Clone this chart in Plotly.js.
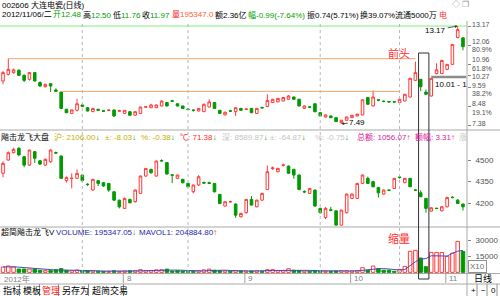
<!DOCTYPE html>
<html><head><meta charset="utf-8">
<script src="https://cdn.plot.ly/plotly-3.0.1.min.js"></script>
<style>html,body{margin:0;padding:0;background:#fff;overflow:hidden}#chart{width:500px;height:296px}</style>
</head><body><div id="chart"></div>
<script>
// ---- stock 002606 daily OHLC ----
const stockOpen = [9.97,10.36,10.46,10.60,10.30,10.07,10.46,9.88,9.64,9.82, 9.45,9.33,8.33,8.09,8.27,8.58,8.42,8.19,8.33,8.24, 8.26,8.29,8.22,8.09,8.19,7.98,8.09,8.45,8.42,8.42, 8.52,8.72,8.82,8.65,8.52,8.34,8.28,8.23,8.19,8.46, 8.72,8.27,8.00,8.24,8.19,8.38,8.32,8.38,8.09,8.43, 8.49,8.72,8.76,8.81,8.91,9.04,8.91,8.38,8.47,8.65, 8.13,7.88,7.94,7.84,7.55,7.69,7.84,7.94,8.00,9.01, 8.52,8.88,8.80,8.78,8.77,8.72,8.81,9.04,10.01,10.07, 9.33,9.10,10.40,10.40,10.65,10.94,12.50,12.48];
const stockHigh = [10.55,11.27,10.70,10.65,10.36,10.50,10.48,9.95,9.82,9.85, 9.55,9.35,8.35,8.30,8.94,8.62,8.45,8.40,8.35,8.26, 8.32,8.30,8.30,8.28,8.20,8.20,8.47,8.52,8.65,8.60, 8.85,8.75,8.88,8.68,8.54,8.40,8.32,8.40,8.66,8.91, 8.74,8.29,8.18,8.30,8.44,8.40,8.38,8.40,8.40,8.48, 9.20,8.93,8.98,9.02,9.15,9.07,8.93,8.55,8.50,8.67, 8.15,8.02,7.96,7.86,7.70,7.90,8.00,8.06,8.90,9.05, 9.43,8.92,8.84,8.82,8.80,8.93,9.22,10.15,11.10,10.09, 9.48,10.15,11.00,11.20,10.96,12.12,13.17,12.50];
const stockLow = [9.78,10.30,10.40,10.28,9.91,10.00,9.95,9.64,9.60,9.33, 9.35,8.35,8.10,8.07,8.20,8.45,8.20,8.17,8.25,8.20, 8.24,7.88,8.18,8.07,7.96,7.96,8.07,8.42,8.40,8.40, 8.50,8.50,8.76,8.50,8.35,8.28,8.20,8.21,8.17,8.44, 8.35,8.07,7.98,8.18,7.94,8.25,8.28,8.10,8.07,8.38, 8.45,8.70,8.74,8.79,8.89,8.89,8.50,8.36,8.42,8.15, 7.92,7.86,7.82,7.60,7.49,7.67,7.82,7.92,7.98,8.60, 8.50,8.80,8.74,8.70,8.72,8.70,8.79,9.02,9.98,9.39, 9.18,9.08,10.36,10.38,10.60,10.90,12.45,11.76];
const stockClose = [10.46,10.65,10.62,10.30,10.01,10.46,9.97,9.68,9.78,9.68, 9.38,8.38,8.13,8.29,8.65,8.50,8.23,8.38,8.27,8.22, 8.28,7.94,8.24,8.27,7.98,8.19,8.46,8.47,8.58,8.58, 8.81,8.52,8.80,8.52,8.37,8.32,8.27,8.38,8.62,8.76, 8.38,8.09,8.16,8.22,8.42,8.27,8.34,8.13,8.38,8.41, 8.84,8.91,8.96,9.01,9.10,8.91,8.52,8.52,8.45,8.19, 7.94,8.00,7.84,7.61,7.69,7.88,7.98,8.05,8.88,8.62, 9.04,8.86,8.78,8.76,8.75,8.91,9.20,10.13,10.46,9.64, 9.20,10.13,10.62,11.17,10.94,12.10,12.96,11.97];

// ---- 飚击龙飞大盘 index OHLC ----
const idxOpen = [4408,4500,4551,4581,4523,4465,4558,4495,4465,4488, 4552,4528,4357,4372,4373,4396,4332,4292,4357,4343, 4338,4280,4222,4165,4227,4211,4269,4389,4435,4389, 4496,4482,4397,4373,4366,4338,4280,4327,4345,4343, 4338,4262,4181,4210,4195,4107,4135,4227,4176,4222, 4296,4440,4419,4463,4458,4435,4396,4282,4269,4292, 4165,4102,4155,4148,4049,4135,4234,4234,4338,4373, 4350,4310,4264,4292,4303,4382,4343,4373,4293,4273, 4234,4146,4166,4148,4176,4242,4222,4195];
const idxHigh = [4490,4560,4585,4590,4528,4572,4562,4500,4510,4575, 4558,4530,4385,4408,4435,4400,4340,4370,4362,4348, 4340,4285,4225,4240,4232,4295,4392,4445,4440,4496, 4505,4486,4400,4400,4370,4340,4330,4395,4350,4350, 4340,4265,4215,4218,4200,4135,4230,4250,4225,4272, 4462,4455,4446,4475,4462,4440,4400,4290,4306,4295, 4170,4175,4175,4150,4156,4268,4268,4342,4400,4385, 4355,4314,4296,4296,4376,4392,4376,4376,4298,4290, 4238,4172,4170,4180,4245,4250,4230,4198];
const idxLow = [4380,4495,4545,4530,4450,4460,4480,4465,4458,4480, 4545,4370,4343,4303,4370,4350,4320,4288,4320,4315, 4280,4218,4165,4160,4200,4205,4265,4385,4405,4385, 4488,4400,4340,4368,4338,4310,4270,4320,4335,4335, 4275,4195,4178,4205,4100,4102,4130,4185,4172,4218, 4292,4431,4415,4455,4405,4370,4290,4270,4265,4176, 4130,4090,4145,4045,4045,4130,4230,4230,4335,4335, 4310,4240,4260,4285,4300,4370,4340,4312,4286,4243, 4135,4143,4160,4145,4172,4235,4195,4150];
const idxClose = [4477,4551,4574,4535,4465,4569,4512,4472,4505,4569, 4548,4373,4380,4374,4408,4357,4330,4366,4338,4320, 4292,4222,4176,4234,4204,4292,4389,4442,4412,4493, 4494,4403,4395,4396,4343,4315,4327,4384,4340,4338, 4280,4199,4211,4212,4118,4130,4227,4188,4222,4269, 4419,4445,4442,4465,4408,4396,4296,4279,4303,4181, 4135,4165,4152,4049,4153,4264,4264,4338,4396,4338, 4315,4273,4292,4290,4373,4380,4373,4315,4290,4246, 4165,4169,4164,4176,4241,4240,4199,4176];

// ---- volume (x10) and MAVOL1 ----
const volume = [5000,6000,5300,3100,3100,3100,3100,2000,1600,1600, 2500,3500,1800,1500,2200,1500,1300,1300,1000,900, 900,1500,1000,1300,1500,1500,2500,1500,1500,2300, 2500,3000,1200,1500,1200,1000,900,1300,2300,3000, 2000,1500,1300,1000,1500,1300,1200,1300,1500,1000, 2500,2500,1500,1500,3400,2000,1800,1200,1000,1800, 1500,1000,900,1300,1500,1500,1300,1500,4400,2000, 5900,3400,2000,2000,1000,2800,5600,19700,20600,13400, 5300,18700,18700,18700,15000,18000,29000,19535];
const mavol = [5200,5300,5200,4900,4500,4120,3540,2880,2580,2280, 2160,2240,2200,2180,2300,2100,1660,1560,1460,1200, 1080,1120,1060,1120,1240,1360,1560,1660,1700,1860, 2060,2160,2100,2100,1880,1580,1160,1180,1340,1700, 1900,2020,2020,1760,1460,1320,1260,1260,1360,1260, 1500,1760,1800,1800,2280,2180,2040,1980,1880,1560, 1460,1300,1240,1300,1240,1240,1300,1420,2040,2140, 3020,3440,3540,3060,2860,2240,2680,6220,9940,12420, 12920,15540,15340,14960,15280,17820,19880,20488];

// ---- axis labels / levels ----
const monthTickIdx = [23, 46, 66, 84];
const monthTickText = ["8", "9", "10", "11"];
const gridIdx = [15, 35, 60, 75];
const priceTicks = [13.17, 12.06, 10.96, 10.27, 9.59, 8.48, 7.38];
const fibText = ["80.9%", "61.8%", "38.2%", "19.1%"];
const idxTicks = [4500, 4350, 4200];
const volTicks = [30000, 15000];
const highPoint = {i: 86, v: 13.17};
const lowPoint = {i: 64, v: 7.49};
const resist1 = {from: 1, to: 78, v: 11.27};
const resist2 = {from: 11, to: 75, v: 9.37};
const supportLine = {from: 81, to: 87.6, v: 10.20};
const boxDays = [79, 80];

// label placement on the right scale (pixel rows, layout only)
const priceLabelRow = [24, 41.5, 59.5, 76.5, 85, 103.5, 124];
const fibLabelRow = [50, 68, 93.5, 112];

const N = stockOpen.length;
const xs = stockOpen.map((_, i) => i);
const W = 500, H = 296;
const PX = x => x / W, PY = y => 1 - y / H;
const FONT = '"Liberation Sans","Noto Sans CJK SC",sans-serif';
const FS = 8;
const RED = '#ff3a3a', GRN = '#009a00';

const up = stockClose.map((c, i) => c >= stockOpen[i]);
const traces = [
  {type:'candlestick', x:xs, open:stockOpen, high:stockHigh, low:stockLow, close:stockClose,
   xaxis:'x', yaxis:'y', whiskerwidth:0, hoverinfo:'skip',
   increasing:{line:{color:RED,width:1}, fillcolor:'#ffffff'},
   decreasing:{line:{color:GRN,width:1}, fillcolor:GRN}},
  {type:'candlestick', x:xs, open:idxOpen, high:idxHigh, low:idxLow, close:idxClose,
   xaxis:'x', yaxis:'y2', whiskerwidth:0, hoverinfo:'skip',
   increasing:{line:{color:RED,width:1}, fillcolor:'#ffffff'},
   decreasing:{line:{color:GRN,width:1}, fillcolor:GRN}},
  {type:'bar', x:xs, y:volume, xaxis:'x', yaxis:'y3', width:0.66, hoverinfo:'skip',
   marker:{color:up.map(u => u ? '#ffffff' : GRN), line:{color:up.map(u => u ? RED : GRN), width:1}}},
  {type:'scatter', mode:'lines', x:xs, y:mavol, xaxis:'x', yaxis:'y3', hoverinfo:'skip',
   line:{color:'#4848c8', width:1}}
];

const axisFont = {family:FONT, size:FS, color:'#505050'};
const yCommon = {side:'right', anchor:'x', showgrid:false, zeroline:false, showline:false,
  ticks:'outside', ticklen:3, tickcolor:'#888', tickfont:axisFont, fixedrange:true, ticklabelstandoff:3};

const shapes = [];
const L = (x0,y0,x1,y1,color,width,dash) => shapes.push({type:'line',xref:'paper',yref:'paper',
  x0:PX(x0),y0:PY(y0),x1:PX(x1),y1:PY(y1),line:{color,width:width||1,dash:dash||'solid'}});
// panel separators
L(0,130,500,130,'#a8a8a8');
L(0,227,500,227,'#a8a8a8');
L(0,273.5,500,273.5,'#a8a8a8');
L(0,284,500,284,'#a8a8a8');
L(467,21,467,296,'#a8a8a8');
// dotted grid
gridIdx.forEach(g => shapes.push({type:'line',xref:'x',yref:'paper',x0:g,x1:g,y0:PY(273),y1:PY(22),
  line:{color:'#b8b8b8',width:1,dash:'dot'}}));
// level lines
shapes.push({type:'line',xref:'paper',yref:'y',x0:0,x1:PX(467),y0:highPoint.v,y1:highPoint.v,line:{color:'#7cf07c',width:1}});
shapes.push({type:'line',xref:'x',yref:'y',x0:resist1.from,x1:resist1.to,y0:resist1.v,y1:resist1.v,line:{color:'#f0a468',width:1}});
shapes.push({type:'line',xref:'x',yref:'y',x0:resist2.from,x1:resist2.to,y0:resist2.v,y1:resist2.v,line:{color:'#f0a468',width:1}});
shapes.push({type:'line',xref:'x',yref:'y',x0:supportLine.from,x1:supportLine.to,y0:supportLine.v,y1:supportLine.v,line:{color:'#8c8c8c',width:2.5}});
// box around pull-back days
shapes.push({type:'rect',xref:'x',yref:'paper',x0:boxDays[0]-0.4,x1:boxDays[1]+0.55,y0:PY(279),y1:PY(53),
  line:{color:'#303030',width:1},fillcolor:'rgba(0,0,0,0)'});
// month tick marks on bottom strip
monthTickIdx.forEach(m => shapes.push({type:'line',xref:'x',yref:'paper',x0:m-0.25,x1:m-0.25,y0:PY(283),y1:PY(274),line:{color:'#a0a0a0',width:1}}));
// tab bar separators
[19.5,39.5,58.5,88.5,123.5].forEach(x => L(x,284,x,296,'#909090'));
[477,487,497].forEach(x => L(x,284,x,296,'#909090'));

const ann = [];
const T = (x, y, text, color, size, extra) => ann.push(Object.assign({xref:'paper',yref:'paper',
  x:PX(x), y:PY(y), text, showarrow:false, xanchor:'left', yanchor:'middle', borderpad:0,
  font:{family:FONT, size:size||FS, color:color||'#000'}}, extra||{}));
const S = (c, t) => `<span style="color:${c}">${t}</span>`;
const DN = S(GRN,'↓'), UP = S(RED,'↑');

// header
T(1, 5.5, '002606 大连电瓷(日线)');
T(1, 15, '2012/11/06/二');
T(52, 15, S('#00a000','开12.48'));
T(82, 15, '高'+S('#00a000','12.50'));
T(112, 15, '低'+S('#00a000','11.76'));
T(141, 15, '收'+S('#00a000','11.97'));
T(171, 15, S('#ff2020','量')+S('#ff6030','195347.0'));
T(214, 15, '额2.36亿');
T(247, 15, S('#00a000','幅-0.99(-7.64%)'));
T(306, 15, '振0.74(5.71%)');
T(359, 15, '换39.07%');
T(394, 15, '流通5000万');
T(438, 15, '电', '#ff3030');
T(451, 5, '◇ ❐', '#909090', 8);

// right price scale labels
priceTicks.forEach((v, k) => T(471, priceLabelRow[k], v.toFixed(2), '#505050', 7));
fibText.forEach((t, k) => T(471, fibLabelRow[k], t, '#505050', 7));

// price panel annotations
ann.push({xref:'x',yref:'y',x:highPoint.i,y:highPoint.v,text:'13.17',showarrow:true,arrowhead:2,arrowsize:0.7,
  arrowwidth:0.8,arrowcolor:'#333',ax:-22,ay:4,font:{family:FONT,size:FS,color:'#000'}});
ann.push({xref:'x',yref:'y',x:lowPoint.i,y:lowPoint.v,text:'7.49',showarrow:true,arrowhead:2,arrowsize:0.7,
  arrowwidth:0.8,arrowcolor:'#333',ax:16,ay:-1,font:{family:FONT,size:FS,color:'#000'}});
T(387, 53, '前头', '#ff3030', 11);
T(434, 84, '10.01 - 1', '#000');

// middle panel title
T(0, 137, '飚击龙飞大盘');
T(53, 137, S('#c8b000','沪: 2106.00')+DN);
T(104, 137, S('#c8b000','±: -8.03')+DN);
T(140, 137, S('#c8b000','%: -0.38')+DN);
T(179, 137, S('#ff3030','℃: 71.38')+DN);
T(221, 137, S('#c4c4c4','深: 8589.87')+DN);
T(269, 137, S('#c4c4c4','±: -64.87')+DN);
T(314, 137, S('#c4c4c4','%: -0.75')+DN);
T(356, 137, S('#d81c9c','总额: 1056.07')+UP);
T(414, 137, S('#d81c9c','额幅: 3.31')+UP);
T(458, 137, '涨', '#c4c4c4');

// volume panel title
T(0, 232, '超简飚击龙飞V');
T(55, 232, S('#2828a8','VOLUME: 195347.05')+DN);
T(138, 232, S('#2828a8','MAVOL1: 204884.80')+UP);
T(387, 239, '缩量', '#ff3030', 11);
T(468, 266.5, 'X10', '#707070', FS, {bordercolor:'#909090', borderwidth:1, borderpad:1});

// bottom date strip
T(3, 278.5, '2012年', '#808080');
monthTickIdx.forEach((m, k) => ann.push({xref:'x',yref:'paper',x:m,y:PY(278.5),text:monthTickText[k],showarrow:false,
  xanchor:'left',yanchor:'middle',font:{family:FONT,size:FS,color:'#808080'}}));
T(473, 278.5, '日线', '#000', 9);

// tab bar
T(2, 290, '指标', '#000', 9);
T(21.5, 290, '模板', '#000', 9);
T(41, 290, '管理', '#ff2020', 9);
T(61, 290, '另存为', '#000', 9);
T(91, 290, '超简交易', '#000', 9);
T(470, 290, '+', '#000');
T(480, 290, '−', '#000');
T(490, 290, '0', '#000');

const layout = {
  width:W, height:H, margin:{l:0,r:0,t:0,b:0}, paper_bgcolor:'#ffffff', plot_bgcolor:'rgba(0,0,0,0)',
  showlegend:false, boxmode:'overlay', bargap:0,
  xaxis:{domain:[0, 467/W], range:[-0.57, 87.76], anchor:'y3', showticklabels:false, showgrid:false,
    zeroline:false, showline:false, ticks:'', rangeslider:{visible:false}, fixedrange:true},
  yaxis:Object.assign({}, yCommon, {domain:[PY(130), PY(21)], range:[7.124, 13.461],
    tickvals:priceTicks, showticklabels:false}),
  yaxis2:Object.assign({}, yCommon, {domain:[PY(227), PY(130)], range:[4036, 4708],
    tickvals:idxTicks, ticktext:idxTicks.map(String)}),
  yaxis3:Object.assign({}, yCommon, {domain:[PY(273), PY(227)], range:[-600, 42500],
    tickvals:volTicks, ticktext:volTicks.map(String)}),
  shapes, annotations:ann
};
Plotly.newPlot('chart', traces, layout, {staticPlot:true, displayModeBar:false});
</script></body></html>
